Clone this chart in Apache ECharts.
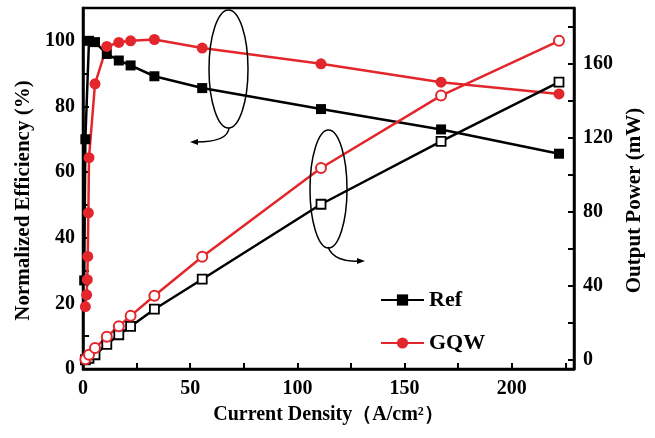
<!DOCTYPE html>
<html>
<head>
<meta charset="utf-8">
<script src="https://cdn.jsdelivr.net/npm/echarts@6/dist/echarts.min.js"></script>
<style>
  html, body { margin: 0; padding: 0; background: #fff; }
  #chart { width: 655px; height: 438px; }
</style>
</head>
<body>
<div id="chart"></div>
<script>
// current density (A/cm2) and values
const refEffX = [0.56, 1.1, 2.8, 5.6, 11.1, 16.7, 22.2, 33.3, 55.6, 111, 167, 222];
const refEff = [27, 70, 100, 99.6, 96, 94, 92.5, 89.2, 85.6, 79.2, 73, 65.6];

const gqwEffX = [1.1, 1.7, 2.0, 2.2, 2.5, 2.8, 5.6, 11.1, 16.7, 22.2, 33.3, 55.6, 111, 167, 222];
const gqwEff = [19, 22.6, 27.2, 34.3, 47.6, 64.4, 86.9, 98.3, 99.5, 100, 100.4, 97.8, 93, 87.4, 83.8];

const powX = [1.1, 2.8, 5.6, 11.1, 16.7, 22.2, 33.3, 55.6, 111, 167, 222];
const refPow = [0, 0.8, 2.7, 8.3, 13.5, 18, 27.3, 43.5, 84, 118, 150];
const gqwPow = [0.3, 2.7, 6.3, 12.4, 18.1, 23.7, 34.6, 55.6, 103.6, 142.7, 172.3];

const xTicks = [0, 25, 50, 75, 100, 125, 150, 175, 200, 225];
const xLabels = [0, 50, 100, 150, 200];
const effTicks = [0, 10, 20, 30, 40, 50, 60, 70, 80, 90, 100];
const effLabels = [0, 20, 40, 60, 80, 100];
const powTicks = [0, 20, 40, 60, 80, 100, 120, 140, 160, 180];
const powLabels = [0, 40, 80, 120, 160];

const RED = '#e3262b';
const FONT = "'Liberation Serif', 'Times New Roman', serif";

function pairs(xs, ys) {
  return xs.map((x, i) => [x, ys[i]]);
}

const chart = echarts.init(document.getElementById('chart'));

const labelStyle = { fontFamily: FONT, fontWeight: 'bold', fontSize: 20, color: '#000' };
// vertical names sit a bit below the middle of the axis in the original
const vNameStyle = { fontFamily: FONT, fontWeight: 'bold', fontSize: 21, color: '#000', padding: [0, 24, 0, 0] };

chart.setOption({
  animation: false,
  grid: {
    left: 83, right: 81, top: 8, bottom: 69,
    show: true, borderColor: '#000', borderWidth: 2.5
  },
  legend: {
    data: ['Ref', 'GQW'],
    orient: 'vertical',
    left: 375, top: 284,
    itemWidth: 43, itemHeight: 14, itemGap: 21,
    textStyle: { fontFamily: FONT, fontWeight: 'bold', fontSize: 22, color: '#000' }
  },
  xAxis: {
    type: 'value', min: 0, max: 229,
    name: 'Current Density（A/cm²）',
    nameLocation: 'middle', nameGap: 36,
    nameTextStyle: { fontFamily: FONT, fontWeight: 'bold', fontSize: 20, color: '#000' },
    axisLine: { lineStyle: { color: '#000', width: 2.5 } },
    axisTick: { inside: true, length: 6, customValues: xTicks, lineStyle: { color: '#000', width: 2 } },
    axisLabel: Object.assign({ customValues: xLabels, margin: 10 }, labelStyle),
    splitLine: { show: false }
  },
  yAxis: [
    {
      type: 'value', min: 0, max: 110, position: 'left',
      name: 'Normalized Efficiency (%)',
      nameLocation: 'middle', nameGap: 44,
      nameTextStyle: vNameStyle,
      axisLine: { lineStyle: { color: '#000', width: 2.5 } },
      axisTick: { inside: true, length: 6, customValues: effTicks, lineStyle: { color: '#000', width: 2 } },
      axisLabel: Object.assign({ customValues: effLabels, margin: 8 }, labelStyle),
      splitLine: { show: false }
    },
    {
      type: 'value', min: -5, max: 190, position: 'right',
      name: 'Output Power (mW)',
      nameLocation: 'middle', nameGap: 50,
      nameTextStyle: vNameStyle,
      axisLine: { show: true, lineStyle: { color: '#000', width: 2.5 } },
      axisTick: { inside: true, length: 6, customValues: powTicks, lineStyle: { color: '#000', width: 2 } },
      axisLabel: Object.assign({ customValues: powLabels, margin: 9 }, labelStyle),
      splitLine: { show: false }
    }
  ],
  series: [
    {
      name: 'Ref', type: 'line', yAxisIndex: 0,
      data: pairs(refEffX, refEff),
      symbol: 'rect', symbolSize: 10,
      itemStyle: { color: '#000' },
      lineStyle: { color: '#000', width: 2.5 }
    },
    {
      name: 'GQW', type: 'line', yAxisIndex: 0,
      data: pairs(gqwEffX, gqwEff),
      symbol: 'circle', symbolSize: 11,
      itemStyle: { color: RED },
      lineStyle: { color: RED, width: 2.5 }
    },
    {
      name: 'Ref', type: 'line', yAxisIndex: 1,
      data: pairs(powX, refPow),
      symbol: 'rect', symbolSize: 9,
      itemStyle: { color: '#fff', borderColor: '#000', borderWidth: 1.8 },
      lineStyle: { color: '#000', width: 2.5 }
    },
    {
      name: 'GQW', type: 'line', yAxisIndex: 1,
      data: pairs(powX, gqwPow),
      symbol: 'circle', symbolSize: 10,
      itemStyle: { color: '#fff', borderColor: RED, borderWidth: 2 },
      lineStyle: { color: RED, width: 2.5 }
    }
  ],
  graphic: [
    // ellipse + arrow pointing to the efficiency axis
    { type: 'ellipse', shape: { cx: 228.5, cy: 69, rx: 19.5, ry: 59 },
      style: { fill: 'none', stroke: '#000', lineWidth: 1.5 }, z: 100 },
    { type: 'bezierCurve', shape: { x1: 229, y1: 128, cpx1: 228, cpy1: 139, cpx2: 212, cpy2: 142, x2: 196, y2: 142 },
      style: { fill: 'none', stroke: '#000', lineWidth: 1.5 }, z: 100 },
    { type: 'polygon', shape: { points: [[190, 142], [198, 139], [198, 145]] },
      style: { fill: '#000' }, z: 100 },
    // ellipse + arrow pointing to the power axis
    { type: 'ellipse', shape: { cx: 328.5, cy: 189, rx: 18.5, ry: 59 },
      style: { fill: 'none', stroke: '#000', lineWidth: 1.5 }, z: 100 },
    { type: 'bezierCurve', shape: { x1: 328, y1: 247, cpx1: 332, cpy1: 258, cpx2: 345, cpy2: 262, x2: 358, y2: 261 },
      style: { fill: 'none', stroke: '#000', lineWidth: 1.5 }, z: 100 },
    { type: 'polygon', shape: { points: [[365, 261], [357, 258], [357, 264]] },
      style: { fill: '#000' }, z: 100 }
  ]
});
</script>
</body>
</html>
